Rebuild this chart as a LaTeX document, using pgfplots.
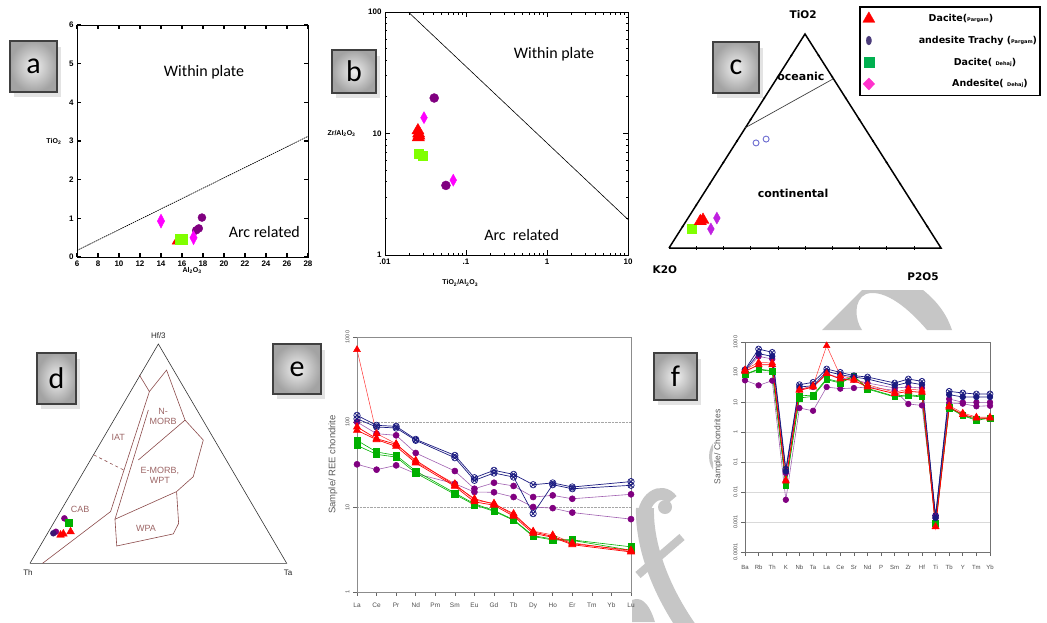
\documentclass[border=0pt]{standalone}
\usepackage{fontspec}
\setmainfont{Liberation Sans}
\newfontfamily\carlito{Carlito}
\newfontfamily\dejavu{DejaVu Sans}
\usepackage{pgfplots}
\pgfplotsset{compat=1.18}
\usetikzlibrary{plotmarks}

\definecolor{cred}{HTML}{FF0000}
\definecolor{cpurp}{HTML}{800080}
\definecolor{clime}{HTML}{80FF00}
\definecolor{cmag}{HTML}{FF00FF}
\definecolor{cnavy}{HTML}{1A1A80}
\definecolor{cgreen}{HTML}{00B000}
\definecolor{cbrown}{HTML}{8B4A4A}
\definecolor{cpline}{HTML}{A060B0}
\definecolor{cblue}{HTML}{6A6AD0}
\definecolor{clegpurp}{HTML}{4B3B7A}
\definecolor{cleggreen}{HTML}{00B050}
\definecolor{clegmag}{HTML}{FF33CC}
\definecolor{cdiam}{HTML}{C020E0}
\definecolor{cwm}{HTML}{C6C6C6}

\newcommand{\lbox}[5]{%
  \fill[gray!22] ({#1+4},{-#2-6}) rectangle ({#1+#3+4},{-#2-#4-5});
  \shade[inner color=gray!12, outer color=gray!72] (#1,-#2) rectangle ({#1+#3},{-#2-#4});
  \draw[gray!50!black, line width=1.2] (#1,-#2) rectangle ({#1+#3},{-#2-#4});
  \node[font=\carlito\fontsize{30}{30}\selectfont] at ({#1+#3/2},{-#2-#4/2}) {#5};
}

\begin{document}
\begin{tikzpicture}[x=1pt,y=1pt]
\useasboundingbox (0,0) rectangle (1047,-622);

% ---------- watermark ----------
\fill[cwm] (822,-330) -- (862,-290) -- (923,-290) .. controls (938,-302) and (947,-315) .. (952,-330)
  -- (927,-330) .. controls (910,-310) and (885,-288) .. (866,-294) .. controls (853,-300) and (855,-320) .. (862,-330) -- cycle;
\begin{scope}
\clip (632,-485) rectangle (712,-622);
\draw[cwm, line width=18] (645,-508) .. controls (644,-545) and (660,-590) .. (690,-632);
\draw[cwm, line width=12] (643,-525) .. controls (641,-497) and (662,-486) .. (672,-500);
\fill[cwm] (665,-507) circle (7);
\draw[cwm, line width=8] (638,-575) -- (682,-537);
\fill[cwm] (632,-600) .. controls (640,-597) and (648,-600) .. (655,-622) -- (632,-622) -- cycle;
\end{scope}
\begin{scope}
\clip (706,-430) rectangle (713,-480);
\draw[cwm, line width=3] (718,-440) .. controls (708,-448) and (708,-465) .. (718,-473);
\end{scope}

% ---------- label boxes ----------
\lbox{10}{41}{47}{51}{a}
\lbox{332}{50}{44}{43}{b}
\lbox{713}{42}{46}{51}{c}
\lbox{37}{353}{39}{51}{d}
\lbox{273}{344}{48}{50}{e}
\lbox{654}{353}{43}{47}{f}

% ---------- panel a ----------
\begin{axis}[at={(77pt,-257pt)}, anchor=south west, scale only axis,
  width=231pt, height=232pt,
  xmin=6, xmax=28, ymin=0, ymax=6,
  xtick={6,8,...,28}, ytick={0,1,...,6},
  tick align=inside, major tick length=4pt,
  tick style={black, line width=1.1pt},
  axis line style={line width=1pt},
  /pgf/number format/assume math mode=true,
  ticklabel style={font=\fontsize{8}{8}\selectfont\bfseries},
  xlabel={Al\textsubscript{2}O\textsubscript{3}}, ylabel={TiO\textsubscript{2}},
  label style={font=\fontsize{7}{7}\selectfont\bfseries},
  xlabel style={at={(axis description cs:0.498,-0.058)}, anchor=center},
  ylabel style={at={(axis description cs:-0.10,0.5)}, anchor=center, rotate=-90},
  clip=false]
\addplot[black, line width=0.7pt, dash pattern=on 1.5pt off 0.8pt] coordinates {(6,0.17)(28,3.12)};
\addplot[only marks, mark=triangle*, mark size=3pt, cred] coordinates {(15.3,0.37)};
\addplot[only marks, mark=square*, mark size=5pt, clime] coordinates {(15.85,0.45)(16.0,0.47)};
\addplot[only marks, mark=*, mark size=4pt, cpurp] coordinates {(17.9,1.02)(17.6,0.74)(17.35,0.69)};
\addplot[only marks, mark=diamond*, mark size=7pt, mark options={xscale=0.7}, cmag] coordinates {(14.0,0.93)(17.1,0.50)};
\node[font=\carlito\fontsize{16}{16}\selectfont] at (axis cs:18.1,4.78) {Within plate};
\node[font=\carlito\fontsize{16}{16}\selectfont] at (axis cs:23.84,0.65) {Arc related};
\end{axis}

% ---------- panel b ----------
\begin{axis}[at={(385pt,-255pt)}, anchor=south west, scale only axis,
  width=243pt, height=243pt,
  xmode=log, ymode=log, xmin=0.01, xmax=10, ymin=1, ymax=100,
  xtick={0.01,0.1,1,10}, xticklabels={.01,.1,1,10},
  ytick={1,10,100}, yticklabels={1,10,100},
  tick align=inside, major tick length=5pt, minor tick length=2.5pt,
  tick style={black, line width=0.9pt},
  axis line style={line width=1pt},
  /pgf/number format/assume math mode=true,
  ticklabel style={font=\fontsize{8}{8}\selectfont\bfseries},
  xlabel={TiO\textsubscript{2}/Al\textsubscript{2}O\textsubscript{3}}, ylabel={Zr/Al\textsubscript{2}O\textsubscript{3}},
  label style={font=\fontsize{7}{7}\selectfont\bfseries},
  xlabel style={at={(axis description cs:0.31,-0.115)}, anchor=center},
  ylabel style={at={(axis description cs:-0.179,0.5)}, anchor=center, rotate=-90},
  clip=false]
\addplot[black, line width=0.6pt] coordinates {(0.0194,100)(10,1.96)};
\addplot[only marks, mark=*, mark size=4.5pt, cpurp] coordinates {(0.0405,19.6)(0.0565,3.74)};
\addplot[only marks, mark=diamond*, mark size=6pt, mark options={xscale=0.75}, cmag] coordinates {(0.0303,13.5)(0.0696,4.13)};
\addplot[only marks, mark=square*, mark size=4.5pt, clime] coordinates {(0.0258,6.76)(0.0288,6.6)};
\addplot[only marks, mark=triangle*, mark size=7pt, cred] coordinates {(0.0255,10.6)(0.026,10.0)(0.0262,9.6)(0.0258,9.3)};
\node[font=\carlito\fontsize{16}{16}\selectfont] at (axis cs:1.22,45) {Within plate};
\node[font=\carlito\fontsize{16}{16}\selectfont] at (axis cs:0.486,1.46) {Arc\ \ related};
\end{axis}

% ---------- panel c (ternary TiO2-K2O-P2O5) ----------
\begin{axis}[at={(669pt,-248pt)}, anchor=south west, scale only axis,
  width=272pt, height=214pt, xmin=0, xmax=1, ymin=0, ymax=1,
  axis lines=none, clip=false,
  legend style={at={(0.6985,1.1308)}, anchor=north west, draw=black, line width=1.6pt,
    fill=white, font=\dejavu\bfseries\fontsize{9.5}{11}\selectfont,
    row sep=9pt, inner xsep=3pt, inner ysep=5pt},
  legend cell align=left]
\addplot[black, line width=1.5pt, line join=miter, forget plot] coordinates {(0,0)(1,0)(0.5,1)(0,0)};
\addplot[only marks, mark=|, mark size=1.6pt, black, forget plot] coordinates {(0.1,0)(0.2,0)(0.3,0)(0.4,0)(0.5,0)(0.6,0)(0.7,0)(0.8,0)(0.9,0)};
\addplot[only marks, mark=*, mark size=0.8pt, black, forget plot] coordinates {(0.05,0.1)(0.1,0.2)(0.15,0.3)(0.2,0.4)(0.25,0.5)(0.3,0.6)(0.35,0.7)(0.4,0.8)(0.45,0.9)};
\addplot[only marks, mark=*, mark size=0.8pt, black, forget plot] coordinates {(0.95,0.1)(0.9,0.2)(0.85,0.3)(0.8,0.4)(0.75,0.5)(0.7,0.6)(0.65,0.7)(0.6,0.8)(0.55,0.9)};
\addplot[black!75, line width=0.7pt, forget plot] coordinates {(0.279,0.561)(0.603,0.790)};
\addplot[only marks, mark=o, mark size=3pt, line width=0.9pt, cblue, forget plot] coordinates {(0.320,0.491)(0.357,0.509)};
\addplot[only marks, mark=square*, mark size=4.5pt, clime, forget plot] coordinates {(0.085,0.089)};
\addplot[only marks, mark=triangle*, mark size=7pt, cred, forget plot] coordinates {(0.125,0.131)(0.115,0.125)};
\addplot[only marks, mark=diamond*, mark size=6pt, mark options={xscale=0.75}, cdiam, forget plot] coordinates {(0.176,0.140)(0.154,0.089)};
\node[font=\dejavu\bfseries\fontsize{10.5}{12}\selectfont] at (axis cs:0.493,1.089) {TiO2};
\node[font=\dejavu\bfseries\fontsize{10.5}{12}\selectfont] at (axis cs:-0.015,-0.103) {K2O};
\node[font=\dejavu\bfseries\fontsize{10.5}{12}\selectfont] at (axis cs:0.934,-0.136) {P2O5};
\node[font=\dejavu\bfseries\fontsize{11}{12}\selectfont] at (axis cs:0.485,0.804) {oceanic};
\node[font=\dejavu\bfseries\fontsize{11}{12}\selectfont] at (axis cs:0.456,0.257) {continental};
\addlegendimage{only marks, mark=triangle*, mark size=7pt, cred, mark options={line width=0.3pt}}
\addlegendentry{\makebox[158pt][c]{\hspace{10pt}Dacite({\fontsize{5}{6}\selectfont Pargam})}}
\addlegendimage{only marks, mark=*, mark size=4.5pt, clegpurp, mark options={xscale=0.6, line width=0.3pt}}
\addlegendentry{\makebox[158pt][c]{\hspace{44pt}andesite Trachy ({\fontsize{5}{6}\selectfont Pargam})}}
\addlegendimage{only marks, mark=square*, mark size=5pt, cleggreen, mark options={line width=0.3pt}}
\addlegendentry{\makebox[158pt][c]{\hspace{58pt}Dacite( {\fontsize{5}{6}\selectfont Dehaj})}}
\addlegendimage{only marks, mark=diamond*, mark size=6pt, clegmag, mark options={xscale=1.3, line width=0.3pt}}
\addlegendentry{\makebox[158pt][c]{\hspace{68pt}Andesite( {\fontsize{5}{6}\selectfont Dehaj})}}
\end{axis}

% ---------- panel d (ternary Hf/3-Th-Ta) ----------
\begin{axis}[at={(30pt,-563.3pt)}, anchor=south west, scale only axis,
  width=256.7pt, height=219.3pt, xmin=0, xmax=1, ymin=0, ymax=1,
  axis lines=none, clip=false]
\addplot[black!80, line width=0.6pt, line join=miter] coordinates {(0,0)(1,0)(0.5,1)(0,0)};
\addplot[cbrown, line width=0.6pt] coordinates {(0.426,0.859)(0.465,0.783)(0.532,0.881)(0.604,0.653)(0.675,0.562)(0.636,0.395)(0.571,0.327)(0.579,0.182)(0.558,0.134)(0.338,0.079)(0.331,0.201)(0.571,0.327)};
\addplot[cbrown, line width=0.6pt] coordinates {(0.465,0.783)(0.314,0.236)(0.049,0)};
\addplot[cbrown, line width=0.6pt] coordinates {(0.461,0.699)(0.331,0.201)};
\addplot[cbrown, line width=0.6pt] coordinates {(0.604,0.653)(0.422,0.471)};
\addplot[cbrown, line width=0.6pt, dashed] coordinates {(0.249,0.494)(0.364,0.426)};
\node[cbrown!85, font=\fontsize{9}{10}\selectfont, align=center] at (axis cs:0.519,0.67) {N-\\MORB};
\node[cbrown!85, font=\fontsize{9}{10}\selectfont] at (axis cs:0.344,0.574) {IAT};
\node[cbrown!85, font=\fontsize{9}{10}\selectfont, align=center] at (axis cs:0.506,0.40) {E-MORB,\\WPT};
\node[cbrown!85, font=\fontsize{9}{10}\selectfont] at (axis cs:0.195,0.248) {CAB};
\node[cbrown!85, font=\fontsize{9}{10}\selectfont] at (axis cs:0.452,0.160) {WPA};
\node[black!85, font=\fontsize{8}{9}\selectfont] at (axis cs:0.5,1.04) {Hf/3};
\node[black!85, font=\fontsize{8}{9}\selectfont] at (axis cs:-0.008,-0.044) {Th};
\node[black!85, font=\fontsize{8}{9}\selectfont] at (axis cs:1.005,-0.044) {Ta};
\addplot[only marks, mark=*, mark size=3pt, cpurp] coordinates {(0.134,0.205)(0.101,0.144)};
\addplot[only marks, mark=*, mark size=3pt, cnavy!80!purple] coordinates {(0.091,0.137)};
\addplot[only marks, mark=square*, mark size=3.5pt, cgreen] coordinates {(0.149,0.185)};
\addplot[only marks, mark=triangle*, mark size=4.5pt, cred] coordinates {(0.119,0.129)(0.130,0.134)(0.158,0.144)};
\end{axis}

% ---------- panel e (REE) ----------
\begin{axis}[at={(357pt,-592pt)}, anchor=south west, scale only axis,
  width=274pt, height=255pt,
  ymode=log, ymin=1, ymax=1000, xmin=0, xmax=14,
  xtick={0,...,14}, xticklabels={La,Ce,Pr,Nd,Pm,Sm,Eu,Gd,Tb,Dy,Ho,Er,Tm,Yb,Lu},
  ytick={1,10,100,1000}, yticklabels={1,10,100,1000},
  yminorticks=false,
  xtick pos=bottom, ytick pos=left, tick align=outside, major tick length=4pt,
  tick style={black!60, line width=0.6pt},
  axis line style={black!45, line width=0.6pt},
  ymajorgrids, grid style={densely dotted, gray!70},
  /pgf/number format/assume math mode=true,
  ticklabel style={font=\fontsize{6.5}{7}\selectfont, text=black!70},
  xticklabel style={yshift=-3pt},
  yticklabel style={rotate=90, font=\fontsize{5.5}{6}\selectfont, anchor=south},
  ylabel={Sample/ REE chondrite},
  ylabel style={font=\fontsize{9.5}{10}\selectfont, text=black!65, at={(axis description cs:-0.088,0.5)}, anchor=center},
  clip=false]
\addplot[cpline, line width=0.6pt, mark=*, mark size=3pt, mark options={fill=cpurp, draw=cpurp}] coordinates {(0,100)(1,72.9)(2,69.7)(3,43.2)(5,26.5)(6,16.4)(7,19.3)(8,17.7)(9,13.1)(10,13.7)(11,12.5)(14,14.1)};
\addplot[cpline, line width=0.6pt, mark=*, mark size=3pt, mark options={fill=cpurp, draw=cpurp}] coordinates {(0,31.8)(1,27.5)(2,30.9)(3,24.7)(5,18.8)(6,15.0)(7,14.9)(8,13.1)(9,10)(10,9.7)(11,8.6)(14,7.2)};
\addplot[cnavy, line width=0.7pt, mark=otimes, mark size=3.2pt] coordinates {(0,119.8)(1,91.4)(2,88.9)(3,62.5)(5,40.5)(6,22.1)(7,27.0)(8,24.2)(9,18.3)(10,19.2)(11,17.2)(14,19.9)};
\addplot[cnavy, line width=0.7pt, mark=otimes, mark size=3.2pt] coordinates {(0,109)(1,87.4)(2,85)(3,60.8)(5,38.0)(6,20.6)(7,25.1)(8,22.5)(9,8.35)(10,18.3)(11,16.4)(14,18.0)};
\addplot[cgreen, line width=0.6pt, mark=square*, mark size=3.2pt] coordinates {(0,60.8)(1,44.4)(2,40.5)(3,26.5)(5,14.6)(6,10.9)(7,9.1)(8,7.1)(9,4.6)(10,4.2)(11,4.1)(14,3.4)};
\addplot[cgreen, line width=0.6pt, mark=square*, mark size=3.2pt] coordinates {(0,53.1)(1,41.6)(2,38.7)(3,25.1)(5,14.1)(6,10.6)(7,8.9)(8,7.0)(9,4.5)(10,4.1)(11,4.05)(14,3.1)};
\addplot[cred!80!white, line width=0.5pt, mark=triangle*, mark size=4pt, mark options={fill=cred, draw=cred}] coordinates {(0,710)(1,73)(2,55.6)(3,33.8)(5,18.8)(6,12.0)(7,11.1)(8,8.0)(9,5.2)(10,4.7)(11,3.8)(14,3.0)};
\addplot[cred, line width=0.7pt, mark=triangle*, mark size=4pt] coordinates {(0,87.4)(1,63.7)(2,54.6)(3,35.4)(5,18.0)(6,12.5)(7,10.8)(8,8.35)(9,5.1)(10,4.5)(11,3.7)(14,3.1)};
\addplot[cred, line width=0.7pt, mark=triangle*, mark size=4pt] coordinates {(0,79.8)(1,62)(2,51.7)(3,33)(5,17.5)(6,11.5)(7,10.5)(8,7.8)(9,4.9)(10,4.4)(11,3.6)(14,2.96)};
\end{axis}

% ---------- panel f (spider) ----------
\begin{axis}[at={(745pt,-552pt)}, anchor=south west, scale only axis,
  width=245pt, height=210pt,
  ymode=log, ymin=0.0001, ymax=1000, xmin=0, xmax=18,
  xtick={0,...,18}, xticklabels={Ba,Rb,Th,K,Nb,Ta,La,Ce,Sr,Nd,P,Sm,Zr,Hf,Ti,Tb,Y,Tm,Yb},
  ytick={0.0001,0.001,0.01,0.1,1,10,100,1000},
  yticklabels={0.0001,0.001,0.01,0.1,1,10,100,1000},
  yminorticks=false,
  xtick pos=bottom, ytick pos=left, tick align=outside, major tick length=4pt,
  tick style={black!60, line width=0.6pt},
  axis line style={black!55, line width=0.7pt},
  ymajorgrids, grid style={gray!30, line width=0.5pt},
  /pgf/number format/assume math mode=true,
  ticklabel style={font=\fontsize{6}{7}\selectfont, text=black!70},
  xticklabel style={yshift=-6pt},
  yticklabel style={rotate=90, font=\fontsize{5.5}{6}\selectfont, anchor=south},
  ylabel={Sample/ Chondrites},
  ylabel style={font=\fontsize{8.5}{9}\selectfont, text=black!65, at={(axis description cs:-0.11,0.5)}, anchor=center},
  clip=false]
\addplot[cpline, line width=0.6pt, mark=*, mark size=2.8pt, mark options={fill=cpurp, draw=cpurp}] coordinates {(0,52.7)(1,35.9)(2,51.4)(3,0.0055)(4,6.3)(5,5.1)(6,31.6)(7,27.8)(8,29.3)(9,31.6)(11,24.5)(12,8.6)(13,7.7)(14,0.00136)(15,9.3)(16,8.8)(17,7.2)(18,7.5)};
\addplot[cpline, line width=0.6pt, mark=*, mark size=2.8pt, mark options={fill=cpurp, draw=cpurp}] coordinates {(0,105)(1,333)(2,271)(3,0.043)(4,27.1)(5,31.6)(6,88)(7,63)(8,55.5)(9,43)(11,29.3)(12,31.6)(13,29.3)(14,0.0016)(15,12.6)(16,9.75)(17,9.75)(18,9.75)};
\addplot[cgreen, line width=0.6pt, mark=square*, mark size=2.8pt] coordinates {(0,81.5)(1,119.6)(2,105)(3,0.0163)(4,13.6)(5,15.4)(6,55.5)(7,43)(8,71.7)(9,27.1)(11,14.7)(12,16.3)(13,14.7)(14,0.00088)(15,6.3)(16,3.5)(17,2.45)(18,2.9)};
\addplot[cgreen, line width=0.6pt, mark=square*, mark size=2.8pt] coordinates {(0,85)(1,125)(2,110)(3,0.017)(4,16)(5,17)(6,60)(7,46)(8,74)(9,28.5)(11,15.5)(12,17.5)(13,15.8)(14,0.0009)(15,6.6)(16,3.7)(17,2.6)(18,3.0)};
\addplot[cnavy, line width=0.7pt, mark=*, mark size=2.8pt] coordinates {(0,113.6)(1,408)(2,333)(3,0.049)(4,31.6)(5,35)(6,105)(7,81.5)(8,68)(9,58.4)(11,35)(12,45.2)(13,37.8)(14,0.00136)(15,17.6)(16,14.7)(17,14.7)(18,14.7)};
\addplot[cnavy, line width=0.7pt, mark=otimes, mark size=3pt] coordinates {(0,119.6)(1,584)(2,452)(3,0.058)(4,37.8)(5,45.2)(6,126)(7,97.4)(8,75.4)(9,68.1)(11,43)(12,58.4)(13,48.9)(14,0.00163)(15,22.7)(16,20)(17,18.5)(18,18.5)};
\addplot[cred!80!white, line width=0.5pt, mark=triangle*, mark size=3.8pt, mark options={fill=cred, draw=cred}] coordinates {(0,119.6)(1,210)(2,200)(3,0.0227)(4,25.8)(5,35)(6,755)(7,75.4)(8,58.4)(9,37.8)(11,21)(12,27.1)(13,24.5)(14,0.00068)(15,7.55)(16,4.3)(17,3.16)(18,3.16)};
\addplot[cred, line width=0.8pt, mark=triangle*, mark size=3.8pt] coordinates {(0,105)(1,175)(2,175)(3,0.0245)(4,24.5)(5,31.6)(6,88)(7,58.4)(8,52.7)(9,31.6)(11,19)(12,22.7)(13,21)(14,0.0007)(15,6.8)(16,3.8)(17,2.9)(18,2.9)};
\end{axis}
\end{tikzpicture}
\end{document}
